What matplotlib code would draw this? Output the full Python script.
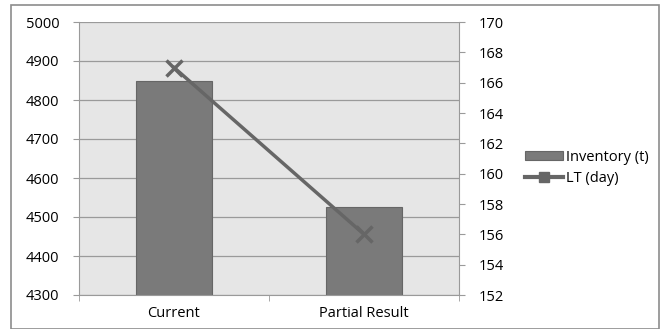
import numpy as np
import matplotlib.pyplot as plt
from matplotlib.patches import Patch, Rectangle
from matplotlib.lines import Line2D

plt.rcParams['font.family'] = ['Open Sans', 'DejaVu Sans']

categories = ["Current", "Partial Result"]
inventory = [4850, 4525]
lead_time = [167, 156]

bar_color = "#7a7a7a"
line_color = "#666666"
grid_color = "#9a9a9a"

fig = plt.figure(figsize=(6.62, 3.29), dpi=100)
# outer chart border
fig.patches.append(Rectangle((11 / 662, 0.0), 648 / 662, 1 - 5 / 329,
                             transform=fig.transFigure, fill=False,
                             edgecolor="#8c8c8c", linewidth=1.2))

ax = fig.add_axes([79 / 662, 34 / 329, 380 / 662, 273 / 329])
ax.set_facecolor("#e6e6e6")
x = np.arange(len(categories))
ax.bar(x, inventory, width=0.4, color=bar_color, edgecolor="#666666",
       linewidth=0.8, zorder=2)
ax.set_xlim(-0.5, 1.5)
ax.set_ylim(4300, 5000)
ax.set_yticks(np.arange(4300, 5001, 100))
ax.yaxis.grid(True, color=grid_color, linewidth=0.9, zorder=0)
ax.set_axisbelow(True)
ax.set_xticks(x)
ax.set_xticklabels(categories)
ax.set_xticks([-0.5, 0.5, 1.5], minor=True)
ax.tick_params(axis="x", which="major", length=0, pad=8, labelsize=10.5)
ax.tick_params(axis="x", which="minor", length=4, color=grid_color)
ax.tick_params(axis="y", length=4, color=grid_color, pad=10, labelsize=10.5)
for s in ["top", "right"]:
    ax.spines[s].set_visible(False)
ax.spines["left"].set_color(grid_color)
ax.spines["bottom"].set_color(grid_color)

ax2 = ax.twinx()
ax2.plot(x, lead_time, color=line_color, linewidth=2.5, marker="x",
         markersize=11, markeredgewidth=2.5, zorder=3)
ax2.set_ylim(152, 170)
ax2.set_yticks(np.arange(152, 171, 2))
ax2.tick_params(axis="y", length=4, color=grid_color, pad=10, labelsize=10.5)
for s in ["top", "left", "bottom"]:
    ax2.spines[s].set_visible(False)
ax2.spines["right"].set_color(grid_color)

handles = [Patch(facecolor=bar_color, edgecolor="#666666", linewidth=0.8),
           Line2D([0], [0], color=line_color, linewidth=3, marker="s",
                  markersize=7)]
fig.legend(handles, ["Inventory (t)", "LT (day)"], loc="center left",
           bbox_to_anchor=(512 / 662, 1 - 168 / 329), frameon=False,
           fontsize=10.5, handlelength=2.6, handleheight=0.6,
           handletextpad=0.2, labelspacing=0.45)

fig.savefig("out.png", dpi=100)
